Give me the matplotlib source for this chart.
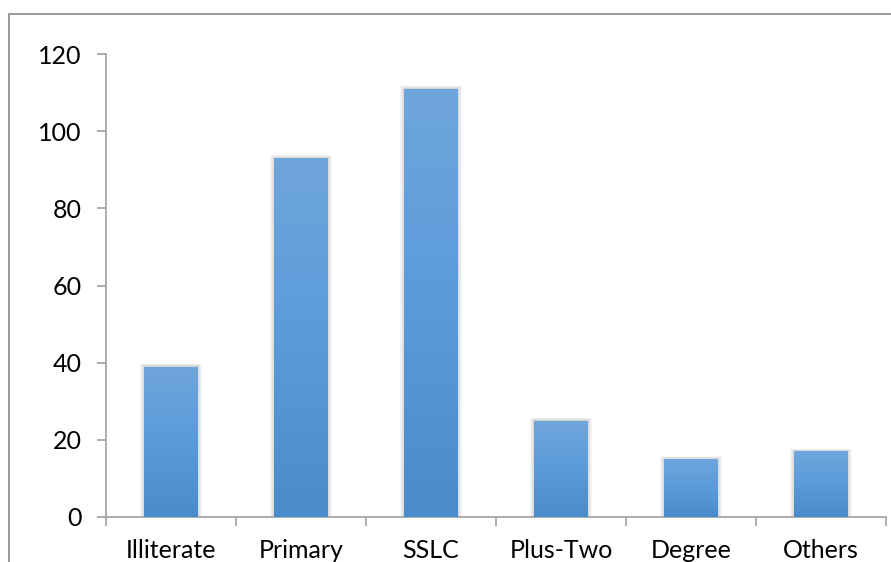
import numpy as np
import matplotlib
matplotlib.use("Agg")
import matplotlib.pyplot as plt
from matplotlib.patches import Rectangle
from matplotlib.colors import LinearSegmentedColormap

categories = ["Illiterate", "Primary", "SSLC", "Plus-Two", "Degree", "Others"]
values = [39, 93, 111, 25, 15, 17]
yticks = [0, 20, 40, 60, 80, 100, 120]

plt.rcParams['font.family'] = ['Lato', 'DejaVu Sans']

fig = plt.figure(figsize=(8.91, 5.62), dpi=100)
ax = fig.add_axes([106 / 891, 45 / 562, 780 / 891, 463 / 562])

# outer chart frame (runs off right and bottom edges)
fig.add_artist(Rectangle((8.5 / 891, -0.1), 1.2, (562 - 13.5) / 562 + 0.1,
                         transform=fig.transFigure, fill=False,
                         edgecolor="#888888", linewidth=1.2))

cmap = LinearSegmentedColormap.from_list("bar", ["#4a8bcb", "#5b9bdb", "#6fa6dc"])
grad = np.linspace(0, 1, 256).reshape(-1, 1)
width = 0.41

bars = ax.bar(range(len(categories)), values, width=width, color="none", zorder=3)
for b in bars:
    x0, y0 = b.get_x(), b.get_y()
    w, h = b.get_width(), b.get_height()
    # soft shadow
    for k in range(1, 6):
        dx = 0.006 * k
        ax.add_patch(Rectangle((x0 - dx, y0), w + 2 * dx, h + 0.15 * k,
                               facecolor="black", alpha=0.035, edgecolor="none", zorder=2))
    im = ax.imshow(grad, cmap=cmap, origin="lower", aspect="auto",
                   extent=(x0, x0 + w, y0, y0 + h), zorder=3)
    im.set_clip_path(b)

ax.set_xlim(-0.5, len(categories) - 0.5)
ax.set_ylim(0, 120)
ax.set_yticks(yticks)
ax.set_xticks(range(len(categories)))
ax.set_xticklabels(categories)
ax.set_xticks(np.arange(-0.5, len(categories), 1.0), minor=True)

for s in ["top", "right"]:
    ax.spines[s].set_visible(False)
for s in ["left", "bottom"]:
    ax.spines[s].set_color("#a0a0a0")
    ax.spines[s].set_linewidth(1.2)

ax.tick_params(axis="y", length=6.5, width=1.2, color="#a0a0a0", labelsize=18, pad=11)
ax.tick_params(axis="x", which="major", length=0, labelsize=18, pad=16)
ax.tick_params(axis="x", which="minor", length=6.5, width=1.2, color="#a0a0a0")

fig.savefig("out.png", dpi=100)
